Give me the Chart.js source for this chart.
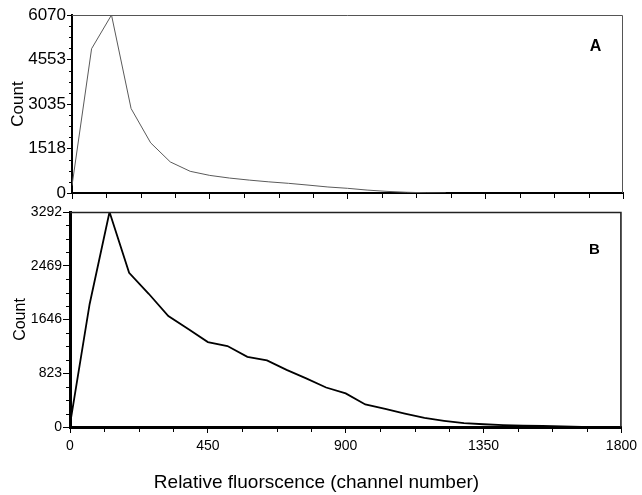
<!DOCTYPE html>
<html><head><meta charset="utf-8">
<script src="https://cdn.jsdelivr.net/npm/chart.js@4.4.0/dist/chart.umd.min.js"></script>
<style>
html,body{margin:0;padding:0;background:#fff;}
#wrap{position:relative;width:642px;height:495px;overflow:hidden;background:#fff;}
canvas{position:absolute;left:0;}
#cA{top:0;} #cB{top:202px;}
</style></head><body>
<div id="wrap"><canvas id="cA" width="642" height="215"></canvas><canvas id="cB" width="642" height="293"></canvas></div>
<script>
// ---- data ----
const channelsA = [0, 64, 129, 193, 257, 321, 386, 450, 514, 579, 643, 707, 771, 836, 900, 964, 1029, 1093, 1157, 1221];
const countsA   = [250, 4920, 6070, 2880, 1710, 1060, 740, 600, 510, 440, 380, 330, 270, 205, 160, 100, 55, 25, 8, 0];
const channelsB = [0, 64, 129, 193, 257, 321, 386, 450, 514, 579, 643, 707, 771, 836, 900, 964, 1029, 1093, 1157, 1221, 1286, 1350, 1414, 1479, 1543, 1607, 1671, 1736];
const countsB   = [40, 1880, 3292, 2360, 2040, 1700, 1500, 1300, 1240, 1075, 1020, 875, 745, 605, 515, 345, 278, 205, 138, 95, 58, 42, 30, 22, 15, 8, 3, 0];
const xTickLabels  = [0, 450, 900, 1350, 1800];
const yTickLabelsA = [0, 1518, 3035, 4553, 6070];
const yTickLabelsB = [0, 823, 1646, 2469, 3292];
const panelLabels = ['A', 'B'];
const xTitle = 'Relative fluorscence (channel number)';
const yTitle = 'Count';

const FONT = "'Liberation Sans', Arial, sans-serif";

function minorsBetween(majors, n) {
  const out = [];
  for (let i = 0; i < majors.length - 1; i++) {
    const a = majors[i], b = majors[i + 1];
    for (let k = 1; k < n; k++) out.push(a + (b - a) * k / n);
  }
  return out;
}

const decor = {
  id: 'decor',
  afterDraw(chart, args, o) {
    const {ctx, chartArea: a, scales: {x, y}} = chart;
    ctx.save();
    ctx.strokeStyle = '#000'; ctx.lineWidth = 1;
    ctx.beginPath();
    o.xMinor.forEach(v => { const p = Math.round(x.getPixelForValue(v)) + 0.5; ctx.moveTo(p, a.bottom); ctx.lineTo(p, a.bottom + o.xMinorLen); });
    o.yMinor.forEach(v => { const p = Math.round(y.getPixelForValue(v)) + 0.5; ctx.moveTo(a.left, p); ctx.lineTo(a.left - o.yMinorLen, p); });
    ctx.stroke();
    ctx.strokeStyle = o.frameColor; ctx.lineWidth = o.frameWidth;
    ctx.beginPath();
    ctx.moveTo(a.left, a.top + o.frameOff); ctx.lineTo(a.right - o.frameOff, a.top + o.frameOff); ctx.lineTo(a.right - o.frameOff, a.bottom);
    ctx.stroke();
    ctx.fillStyle = '#000';
    ctx.font = 'bold ' + o.labelSize + 'px ' + FONT;
    ctx.textAlign = 'center'; ctx.textBaseline = 'middle';
    ctx.fillText(o.label, a.right - o.labelDx, a.top + o.labelDy);
    ctx.restore();
  }
};

function makePanel(canvas, p) {
  return new Chart(canvas, {
    type: 'line',
    data: { datasets: [{
      data: p.channels.map((c, i) => ({x: c, y: p.counts[i]})),
      borderColor: p.lineColor, borderWidth: p.lineWidth,
      pointRadius: 0, tension: 0, fill: false
    }]},
    options: {
      responsive: false, animation: false, devicePixelRatio: 1,
      layout: { padding: p.padding },
      plugins: {
        legend: {display: false}, tooltip: {enabled: false},
        title: p.title,
        decor: p.decor
      },
      scales: {
        x: {
          type: 'linear', min: 0, max: 1800,
          afterBuildTicks: s => { s.ticks = xTickLabels.map(v => ({value: v})); },
          afterFit: s => { s.height = p.xHeight; },
          grid: {display: true, drawOnChartArea: false, drawTicks: true, tickLength: 6, tickColor: '#000', tickWidth: 1, color: '#000'},
          border: {display: true, color: '#000', width: p.xBorder},
          ticks: {display: p.xLabels, color: '#000', padding: 5, maxRotation: 0, autoSkip: false,
                  font: {family: FONT, size: 14}, callback: v => String(v)}
        },
        y: {
          type: 'linear', min: 0, max: p.yMax,
          afterBuildTicks: s => { s.ticks = p.yTicks.map(v => ({value: v})); },
          afterFit: s => { s.width = p.yWidth; },
          grid: {display: true, drawOnChartArea: false, drawTicks: true, tickLength: p.yTickLen, tickColor: '#000', tickWidth: 1, color: '#000'},
          border: {display: true, color: '#000', width: p.yBorder},
          ticks: {color: '#000', padding: 1, autoSkip: false, font: {family: FONT, size: p.yFont}, callback: v => String(v)},
          title: {display: true, text: yTitle, color: '#000', font: {family: FONT, size: p.yTitleSize}, padding: {top: p.yTitlePad, bottom: 0}}
        }
      }
    },
    plugins: [decor]
  });
}

const xMinor = minorsBetween(xTickLabels, 4);

makePanel(document.getElementById('cA'), {
  channels: channelsA, counts: countsA, lineColor: '#5a5a5a', lineWidth: 1,
  padding: {top: 15, right: 19, left: 0, bottom: 0},
  title: {display: false},
  xHeight: 22, xBorder: 2, xLabels: false,
  yMax: 6070, yTicks: yTickLabelsA, yWidth: 72, yTickLen: 5, yBorder: 2, yFont: 17,
  yTitleSize: 17, yTitlePad: 8,
  decor: {xMinor: xMinor, yMinor: minorsBetween(yTickLabelsA, 4), xMinorLen: 5, yMinorLen: 3,
          frameColor: '#555', frameWidth: 1, frameOff: 0.5,
          label: panelLabels[0], labelSize: 16, labelDx: 27.5, labelDy: 31.5}
});

makePanel(document.getElementById('cB'), {
  channels: channelsB, counts: countsB, lineColor: '#000', lineWidth: 1.8,
  padding: {top: 10, right: 19, left: 10, bottom: 0},
  title: {display: true, position: 'bottom', text: xTitle, color: '#000',
          font: {family: FONT, size: 19, weight: 'normal'}, padding: {top: 14.2, bottom: 1}},
  xHeight: 30, xBorder: 3, xLabels: true,
  yMax: 3292, yTicks: yTickLabelsB, yWidth: 60, yTickLen: 7, yBorder: 3, yFont: 14,
  yTitleSize: 16, yTitlePad: 1,
  decor: {xMinor: xMinor, yMinor: minorsBetween(yTickLabelsB, 4), xMinorLen: 5, yMinorLen: 4,
          frameColor: '#222', frameWidth: 1.6, frameOff: 0.5,
          label: panelLabels[1], labelSize: 15, labelDx: 27, labelDy: 37.7}
});
</script>
</body></html>
